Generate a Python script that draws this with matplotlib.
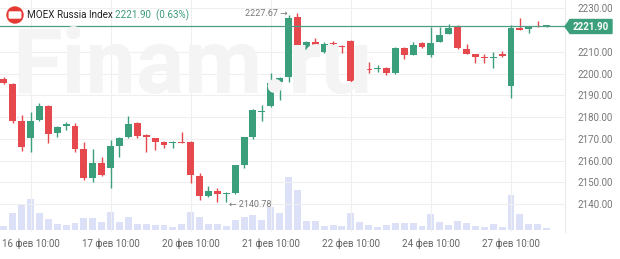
import matplotlib.pyplot as plt
from matplotlib.patches import Ellipse, Polygon, FancyBboxPatch
import numpy as np

plt.rcParams['font.family'] = ['Roboto', 'DejaVu Sans']

# hourly candles, 15 feb 16:00 .. 27 feb 14:00
day_labels = ['16 фев 10:00', '17 фев 10:00', '20 фев 10:00', '21 фев 10:00',
              '22 фев 10:00', '24 фев 10:00', '27 фев 10:00']
day_start = [3, 12, 21, 30, 39, 48, 57]

opens = [2197.5, 2195.2, 2178.2, 2170.6, 2178.6, 2185.1, 2172.7, 2176.0, 2175.9, 2165.3,
         2152.0, 2158.9, 2156.6, 2166.7, 2170.8, 2177.3, 2171.8, 2170.4, 2168.5, 2168.1,
         2168.6, 2168.5, 2152.9, 2143.7, 2146.0, 2144.8, 2145.1, 2158.0, 2170.8, 2182.5,
         2185.1, 2196.1, 2198.4, 2226.0, 2210.8, 2214.5, 2209.9, 2214.0, 2212.7, 2215.0,
         2196.6, 2202.3, 2202.1, 2202.6, 2200.3, 2211.7, 2208.5, 2214.0, 2208.5, 2214.5,
         2218.2, 2221.4, 2211.3, 2209.0, 2207.3, 2207.2, 2209.0, 2194.3, 2220.9, 2220.5,
         2222.0, 2221.7]
highs = [2198.4, 2195.7, 2180.9, 2182.3, 2186.5, 2185.5, 2175.9, 2177.7, 2177.3, 2168.5,
         2165.3, 2161.6, 2169.5, 2170.8, 2180.5, 2177.7, 2172.2, 2170.6, 2169.0, 2168.8,
         2173.1, 2168.8, 2154.3, 2148.3, 2147.4, 2145.6, 2158.2, 2171.0, 2183.5, 2185.5,
         2200.3, 2198.3, 2226.9, 2227.67, 2215.0, 2216.3, 2214.5, 2215.0, 2213.1, 2215.2,
         2202.4, 2205.3, 2204.0, 2202.8, 2212.0, 2212.0, 2214.5, 2214.5, 2221.4, 2221.4,
         2222.8, 2222.3, 2213.6, 2209.2, 2209.0, 2209.9, 2210.4, 2222.3, 2225.5, 2222.0,
         2224.2, 2222.3]
lows = [2195.2, 2177.3, 2164.4, 2163.9, 2178.0, 2168.1, 2170.8, 2174.0, 2163.9, 2151.0,
        2150.2, 2153.0, 2147.4, 2161.6, 2170.4, 2170.4, 2163.9, 2164.9, 2165.8, 2165.8,
        2168.0, 2149.7, 2141.9, 2143.2, 2141.2, 2140.78, 2144.8, 2156.6, 2169.9, 2178.2,
        2184.8, 2187.8, 2196.1, 2203.0, 2210.4, 2209.4, 2209.4, 2212.7, 2209.4, 2196.1,
        2194.7, 2200.3, 2200.8, 2199.3, 2200.0, 2206.7, 2208.3, 2211.9, 2207.6, 2214.3,
        2218.0, 2211.5, 2208.8, 2204.9, 2204.9, 2202.6, 2207.8, 2188.8, 2219.8, 2218.6,
        2221.4, 2221.5]
closes = [2195.7, 2178.2, 2166.2, 2178.4, 2185.1, 2172.2, 2175.4, 2176.6, 2165.3, 2151.8,
          2158.9, 2153.4, 2166.7, 2170.4, 2176.8, 2171.3, 2170.8, 2168.5, 2167.2, 2168.6,
          2168.2, 2153.4, 2143.7, 2146.0, 2144.6, 2145.2, 2158.0, 2170.8, 2183.2, 2182.9,
          2195.7, 2198.0, 2225.5, 2210.8, 2214.5, 2209.9, 2213.6, 2213.6, 2212.2, 2196.6,
          2202.1, 2201.8, 2202.6, 2200.3, 2211.7, 2208.5, 2213.1, 2212.2, 2214.0, 2217.7,
          2220.9, 2211.7, 2209.0, 2207.6, 2207.0, 2207.6, 2208.1, 2220.9, 2220.0, 2221.9,
          2221.6, 2221.9]
volume = [4, 16.7, 25.7, 31, 16.7, 10.7, 5.7, 5, 6.7, 11.7,
          11.7, 7.7, 18.3, 8.3, 13.3, 6, 6, 5, 5, 3.3,
          5.7, 18.3, 12.7, 6, 6, 4, 10, 12.7, 15, 10,
          23.3, 16.7, 53.3, 40, 9, 9, 4, 5, 4, 17.3,
          7.7, 5, 3.3, 5, 6.7, 6.7, 6.7, 4.3, 16, 7.7,
          5, 9, 6.7, 4.3, 3.3, 5.7, 2.7, 35, 16, 6,
          6, 1.7]
last_price = 2221.90
change_pct = 0.63
price_ticks = [2140, 2150, 2160, 2170, 2180, 2190, 2200, 2210, 2230]

green = '#3c9f7c'
red = '#e5484d'
W, H = 620, 259

fig = plt.figure(figsize=(6.2, 2.59), dpi=100)
rect = [0, 1 - 232 / H, 565 / W, 232 / H]

axv = fig.add_axes(rect)
axv.bar(np.arange(len(volume)), volume, width=0.78, color='#dde1f8', zorder=2)
axv.set_ylim(-2, 230)
axv.set_xlim(-0.43, 63.07)
axv.axis('off')

fig.text(12 / W, 1 - 93 / H, 'Finam.ru', fontsize=65, fontweight='bold',
         color='#f4f4f4', va='baseline', ha='left', zorder=0)

ax = fig.add_axes(rect)
ax.patch.set_visible(False)
o = np.array(opens); c = np.array(closes)
x = np.arange(len(o))
cols = [green if cc >= oo else red for oo, cc in zip(o, c)]
ax.vlines(x, lows, highs, colors=cols, linewidth=1, zorder=3)
ax.bar(x, np.maximum(np.abs(c - o), 0.45), bottom=np.minimum(o, c), width=0.78,
       color=cols, zorder=4)

ax.axhline(last_price, color='#4d9c85', linewidth=0.9, zorder=5)
ax.set_xlim(-0.43, 63.07)
ax.set_ylim(2127.2, 2233.8)
ax.set_yticks(price_ticks)
ax.set_yticklabels([f'{p:.2f}' for p in price_ticks])
ax.yaxis.tick_right()
ax.set_xticks(day_start)
ax.set_xticklabels(day_labels)
ax.tick_params(axis='y', length=0, pad=9, labelsize=7, labelcolor='#777777')
ax.tick_params(axis='x', length=0, pad=5, labelsize=7, labelcolor='#666666')
ax.grid(True, color='#efefef', linewidth=0.8, zorder=0)
for s in ['top', 'left', 'bottom']:
    ax.spines[s].set_visible(False)
ax.spines['right'].set_color('#ececec')

ax.text(31.95, 2227.67, '2227.67 →', ha='right', va='center', fontsize=6.5, color='#777777')
ax.text(25.3, 2140.0, '← 2140.78', ha='left', va='center', fontsize=6.5, color='#777777')


def px(xp, yp):
    return (xp / W, 1 - yp / H)


tag = Polygon([px(565, 26.5), px(570, 19.5), px(612, 19.5), px(612, 33.5), px(570, 33.5)],
              closed=True, transform=fig.transFigure, color=green, zorder=10)
fig.add_artist(tag)
fig.text(591 / W, 1 - 26.5 / H, f'{last_price:.2f}', color='white', fontsize=7,
         fontweight='bold', ha='center', va='center', zorder=11)

fig.add_artist(Ellipse(px(15, 15), 16 / W, 16 / H, transform=fig.transFigure,
                       color='#e53935', zorder=10))
fig.add_artist(FancyBboxPatch(px(10.5, 17.5), 9 / W, 5 / H, boxstyle='round,pad=0.002',
                              transform=fig.transFigure, color='white', zorder=11))
fig.text(27 / W, 1 - 15 / H, 'MOEX Russia Index', fontsize=7.1, color='#222222',
         ha='left', va='center', zorder=11)
fig.text(115 / W, 1 - 15 / H, f'{last_price:.2f}  ({change_pct:.2f}%)', fontsize=7.1,
         color='#3a9a78', ha='left', va='center', zorder=11)

fig.savefig('out.png', dpi=100)
